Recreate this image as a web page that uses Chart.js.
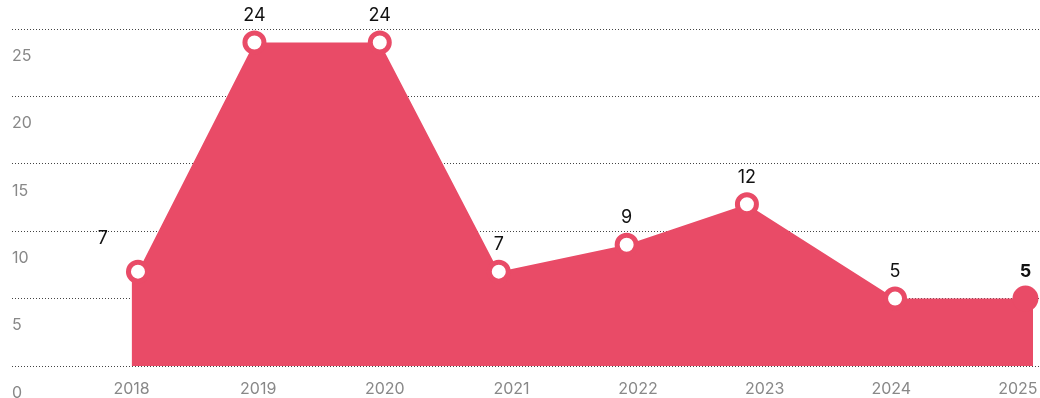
<!DOCTYPE html>
<html>
<head>
<meta charset="utf-8">
<script src="https://cdn.jsdelivr.net/npm/chart.js@4.4.1/dist/chart.umd.min.js"></script>
<style>
  html, body { margin: 0; padding: 0; background: #fff; }
  #wrap { width: 1040px; height: 398px; position: relative; }
</style>
</head>
<body>
<div id="wrap"><canvas id="chart"></canvas></div>
<script>
// when each value was recorded, as a fraction of the year
const yearPos = [2018.05, 2018.97, 2019.96, 2020.9, 2021.91, 2022.86, 2024.03, 2025.06];
const values = [7, 24, 24, 7, 9, 12, 5, 5];
const yearTicks = [2018, 2019, 2020, 2021, 2022, 2023, 2024, 2025];
const valueTicks = [0, 5, 10, 15, 20, 25];
// the shaded area runs a little past the first and last reading
const areaStart = 2018;
const areaEnd = 2025.12;

const red = "#e94b67";
const last = values.length - 1;

const points = yearPos.map((x, i) => ({ x: x, y: values[i] }));
const area = [{ x: areaStart, y: values[0] }, ...points, { x: areaEnd, y: values[last] }];

// numbers above the markers, the latest one in bold
const valueLabels = {
  id: "valueLabels",
  afterDatasetsDraw(chart) {
    const ctx = chart.ctx;
    const meta = chart.getDatasetMeta(1);
    ctx.save();
    ctx.fillStyle = "#111";
    ctx.textAlign = "center";
    ctx.textBaseline = "middle";
    meta.data.forEach((pt, i) => {
      ctx.font = (i === last ? "bold " : "") + "18px Inter, sans-serif";
      let x = pt.x, y = pt.y - 27;
      if (i === 0) { x -= 35; y -= 6; }
      ctx.fillText(String(values[i]), x, y);
    });
    ctx.restore();
  }
};

new Chart(document.getElementById("chart"), {
  type: "line",
  data: {
    datasets: [{
      data: area,
      order: 1,
      borderWidth: 0,
      borderColor: red,
      backgroundColor: red,
      fill: "origin",
      pointRadius: 0,
      tension: 0
    }, {
      data: points,
      order: 0,
      showLine: false,
      clip: false,
      pointStyle: "circle",
      pointRadius: ctx => ctx.dataIndex === last ? 13 : 9.5,
      pointBorderWidth: ctx => ctx.dataIndex === last ? 0 : 5,
      pointBackgroundColor: ctx => ctx.dataIndex === last ? red : "#fff",
      pointBorderColor: red
    }]
  },
  options: {
    responsive: true,
    maintainAspectRatio: false,
    animation: false,
    layout: { autoPadding: false, padding: { left: 12, right: 0, top: 29, bottom: 0 } },
    plugins: { legend: { display: false }, tooltip: { enabled: false } },
    scales: {
      x: {
        type: "linear",
        min: 2017.055,
        max: 2025.175,
        afterBuildTicks: scale => { scale.ticks = yearTicks.map(v => ({ value: v })); },
        // keep the plot running to the right edge, labels sit below it
        afterFit: scale => {
          scale.paddingLeft = 0;
          scale.paddingRight = 0;
          scale.height = 32;
        },
        grid: { display: false, drawTicks: false },
        border: { display: false },
        ticks: {
          padding: 14,
          color: "#888",
          font: { family: "Inter", size: 16 },
          callback: v => String(v),
          maxRotation: 0,
          autoSkip: false
        }
      },
      y: {
        min: 0,
        max: 25,
        afterBuildTicks: scale => { scale.ticks = valueTicks.map(v => ({ value: v })); },
        grid: { color: "#444", lineWidth: 1, drawTicks: false },
        border: { display: false, dash: [1, 2] },
        ticks: {
          mirror: true,
          padding: 0,
          labelOffset: 27,
          color: "#888",
          font: { family: "Inter", size: 16 }
        }
      }
    }
  },
  plugins: [valueLabels]
});
</script>
</body>
</html>
